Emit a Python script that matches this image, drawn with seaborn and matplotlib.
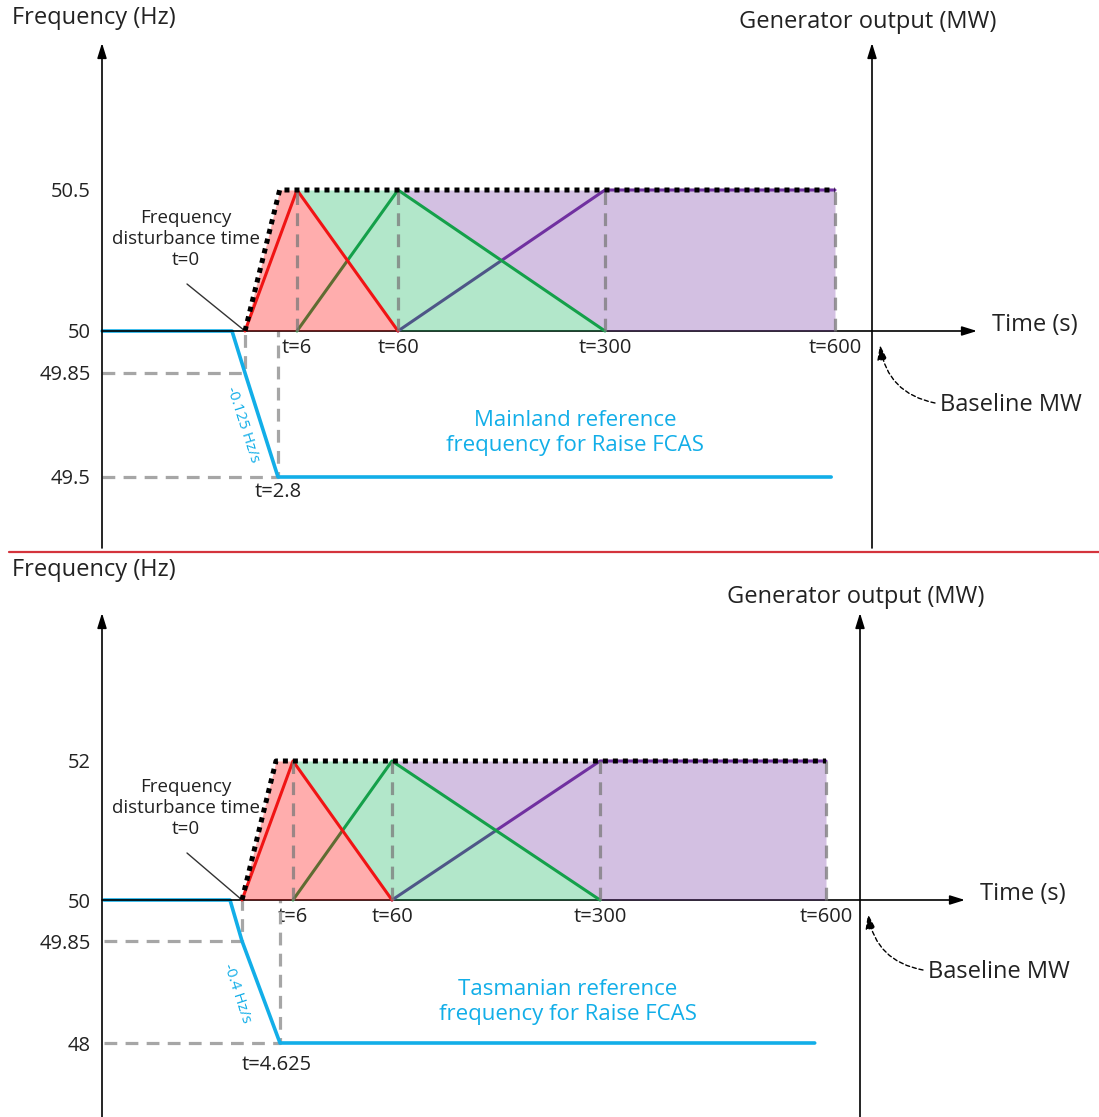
import numpy as np
import matplotlib.pyplot as plt
import seaborn as sns

sns.set_style('white')
plt.rcParams['font.family'] = ['Open Sans', 'DejaVu Sans']

W, H = 1099, 1117

# frequency traces (Hz) against time (s)
mainland_t = [-13, -1.2, 0, 2.8, 595]
mainland_hz = [50, 50, 49.85, 49.5, 49.5]
tasmania_t = [-13, -0.375, 0, 4.625, 585]
tasmania_hz = [50, 50, 49.85, 48, 48]
mainland_ticks = [49.5, 49.85, 50, 50.5]
tasmania_ticks = [48, 49.85, 50, 52]

# raise FCAS services, generator output as a share of the full response
service_t = [0, 6, 60, 300, 600]
fast_mw = [0, 1, 0, 0, 0]       # 6 second
slow_mw = [0, 0, 1, 0, 0]       # 60 second
delayed_mw = [0, 0, 0, 1, 1]    # 5 minute
total_t = [0, 4, 600]
total_mw = [0, 1, 1]

time_ticks = [6, 60, 300, 600]
time_labels = ['t=6', 't=60', 't=300', 't=600']

RED, GREEN, PURPLE = '#ff0000', '#00b050', '#7030a0'
BLUE, GREY, INK = '#12aee8', '#a6a6a6', '#222222'

fig = plt.figure(figsize=(W / 100, H / 100), dpi=100)


def label(x, y, s, **kw):
    # x, y in pixels from the top-left corner
    kw.setdefault('color', INK)
    kw.setdefault('va', 'center')
    fig.text(x / W, 1 - y / H, s, **kw)


def pix(x, y):
    return (x, H - y)


def schematic(ax, axis, knots, px, lo, hi):
    # the drawing is not to scale: piecewise-linear mapping of values onto pixels
    knots = np.asarray(knots, float)
    px = np.asarray(px, float) * (1 if axis == 'x' else -1)
    fwd = lambda v: np.interp(v, knots, px)
    inv = lambda p: np.interp(p, px, knots)
    if axis == 'x':
        ax.set_xscale('function', functions=(fwd, inv))
        ax.set_xlim(inv(lo), inv(hi))
    else:
        ax.set_yscale('function', functions=(fwd, inv))
        ax.set_ylim(inv(-lo), inv(-hi))


def arrow(ax, start, end, **kw):
    ax.annotate('', xy=pix(*end), xytext=pix(*start), xycoords='figure pixels',
                arrowprops=dict(arrowstyle='-|>,head_length=0.9,head_width=0.28',
                                color='k', lw=1.2, shrinkA=0, shrinkB=0), **kw)


def panel(c):
    rect = [0, 1 - c['bottom'] / H, 1, (c['bottom'] - c['top']) / H]
    ax = fig.add_axes(rect)
    ax2 = fig.add_axes(rect)
    ax2.patch.set_visible(False)

    schematic(ax, 'x', c['t_knots'], c['t_px'], 0, W)
    schematic(ax, 'y', c['hz_knots'], c['hz_px'], c['bottom'], c['top'])
    schematic(ax2, 'x', c['mw_knots'], c['mw_px'], 0, W)
    z, o = c['mw_y']
    ax2.set_ylim((z - c['bottom']) / (z - o), (z - c['top']) / (z - o))

    # frequency trace and its guide lines
    t, hz = c['t'], c['hz']
    sns.lineplot(x=t, y=hz, ax=ax, color=BLUE, lw=2.6, sort=False, estimator=None, zorder=3)
    dash = dict(color=GREY, lw=2.3, dashes=(4, 2.6), zorder=2)
    ax.plot([t[0], t[2], t[2]], [hz[2], hz[2], hz[0]], **dash)
    ax.plot([t[0], t[3], t[3]], [hz[3], hz[3], hz[0]], **dash)

    # generator output of the three raise services
    grid = np.union1d(service_t, total_t)
    env = lambda v: np.interp(v, total_t, total_mw)
    fast = lambda v: np.interp(v, service_t, fast_mw)
    slow = lambda v: np.interp(v, service_t, slow_mw)
    t6, t60, t300, t600 = service_t[1:]

    x = grid[grid >= t60]
    ax2.fill_between(x, slow(x), env(x), color=PURPLE, alpha=0.3, lw=0, zorder=1)
    sns.lineplot(x=service_t[2:], y=delayed_mw[2:], ax=ax2, color=PURPLE, lw=2.2,
                 sort=False, estimator=None, zorder=2)
    x = grid[(grid >= t6) & (grid <= t300)]
    ax2.fill_between(x, fast(x), np.where(x <= t60, env(x), slow(x)),
                     color=GREEN, alpha=0.3, lw=0, zorder=3)
    sns.lineplot(x=service_t[1:4], y=slow_mw[1:4], ax=ax2, color='#14a04a', lw=2.2,
                 sort=False, estimator=None, zorder=4)
    x = grid[grid <= t60]
    ax2.fill_between(x, 0, np.where(x <= t6, env(x), fast(x)),
                     color=RED, alpha=0.32, lw=0, zorder=5)
    sns.lineplot(x=service_t[:3], y=fast_mw[:3], ax=ax2, color='#f01414', lw=2.2,
                 sort=False, estimator=None, zorder=6)
    for tk in time_ticks:
        ax2.plot([tk, tk], [0, 1], color='#7a7a7a', alpha=0.75, lw=2.3,
                 dashes=(4, 2.6), zorder=7)
    sns.lineplot(x=total_t, y=total_mw, ax=ax2, color='k', lw=3.6,
                 linestyle=(0, (1, 1)), sort=False, estimator=None, zorder=8)

    # axes drawn as arrows; spines only carry the tick labels
    for s in ax.spines.values():
        s.set_color('none')
    ax.spines['left'].set_position(('axes', c['yaxis'] / W))
    ax.spines['bottom'].set_position(('data', 50))
    ax.set_yticks(c['ticks'], [f'{v:g}' for v in c['ticks']])
    ax.set_xticks(time_ticks, time_labels)
    ax.tick_params(length=0, labelsize=14.5, labelcolor=INK)
    ax.tick_params(axis='y', pad=8)
    ax.tick_params(axis='x', pad=5)
    ax2.set_axis_off()

    ya, ga, tip, base = c['yaxis'], c['genaxis'], c['tip'], c['bottom_line']
    zy = c['zero_y']
    arrow(ax, (ya, base), (ya, tip))
    arrow(ax, (ya, zy), (c['tend'], zy))
    arrow(ax2, (ga, base), (ga, tip))

    # texts
    top = c['top']
    label(12, top + 18, 'Frequency (Hz)', fontsize=17)
    label(ga - 4, top + c['gen_dy'], 'Generator output (MW)', fontsize=17, ha='center')
    label(c['tend'] + 15, zy - 6, 'Time (s)', fontsize=17)
    bx, by = c['baseline']
    label(bx, by, 'Baseline MW', fontsize=17)
    ax2.annotate('', xy=pix(ga + 8, zy + 14), xytext=pix(bx - 5, by - 2),
                 xycoords='figure pixels',
                 arrowprops=dict(arrowstyle='-|>,head_length=0.9,head_width=0.3',
                                 color='k', lw=1.0, ls=(0, (3, 2)),
                                 connectionstyle='arc3,rad=-0.35', shrinkA=0, shrinkB=0))
    label(186, zy - 92, 'Frequency\ndisturbance time\nt=0', fontsize=13.5,
          ha='center', linespacing=1.2)
    ax.annotate('', xy=(t[2], 50), xytext=pix(187, zy - 47), textcoords='figure pixels',
                arrowprops=dict(arrowstyle='-', color='#333333', lw=1.0, shrinkA=0, shrinkB=0))
    sx, sy = c['slope_xy']
    label(sx, sy, c['slope'], fontsize=11, color=BLUE, ha='center',
          rotation=-72, rotation_mode='anchor')
    label(c['settle_x'], c['settle_y'], c['settle'], fontsize=14.5, ha='center')
    cx, cy = c['caption_xy']
    label(cx, cy, c['caption'], fontsize=16, color=BLUE, ha='center', linespacing=1.2)


panel(dict(top=0, bottom=552, t=mainland_t, hz=mainland_hz, ticks=mainland_ticks,
           hz_knots=[49, 49.5, 49.85, 50, 50.5, 52], hz_px=[623, 477, 373, 331, 190, -233],
           t_knots=[-30, -1.2, 0, 2.8, 6, 60, 300, 600, 1200],
           t_px=[-85, 232, 245, 278, 297, 398, 605, 835, 1297],
           mw_knots=[-50, 0, 6, 60, 300, 600, 1200],
           mw_px=[-188, 245, 297, 398, 605, 835, 1297], mw_y=(331, 190),
           yaxis=102, genaxis=872, tip=43, bottom_line=548, zero_y=331, tend=977,
           gen_dy=22, baseline=(940, 405), slope='-0.125 Hz/s', slope_xy=(243, 425),
           settle='t=2.8', settle_x=278, settle_y=492,
           caption='Mainland reference\nfrequency for Raise FCAS', caption_xy=(575, 433)))

panel(dict(top=552, bottom=1117, t=tasmania_t, hz=tasmania_hz, ticks=tasmania_ticks,
           hz_knots=[46, 48, 49.85, 50, 52, 56], hz_px=[1186, 1043, 941, 900, 761, 483],
           t_knots=[-30, -0.375, 0, 4.625, 6, 60, 300, 600, 1200],
           t_px=[-66, 230, 242, 280, 293, 392, 600, 826, 1278],
           mw_knots=[-50, 0, 6, 60, 300, 600, 1200],
           mw_px=[-183, 242, 293, 392, 600, 826, 1278], mw_y=(900, 761),
           yaxis=102, genaxis=860, tip=613, bottom_line=1117, zero_y=900, tend=965,
           gen_dy=45, baseline=(928, 972), slope='-0.4 Hz/s', slope_xy=(237, 993),
           settle='t=4.625', settle_x=277, settle_y=1065,
           caption='Tasmanian reference\nfrequency for Raise FCAS', caption_xy=(568, 1002)))

fig.add_artist(plt.Line2D([9 / W, 1], [1 - 552 / H] * 2, transform=fig.transFigure,
                          color='#d4343c', lw=1.6))

fig.savefig('out.png', dpi=100)
